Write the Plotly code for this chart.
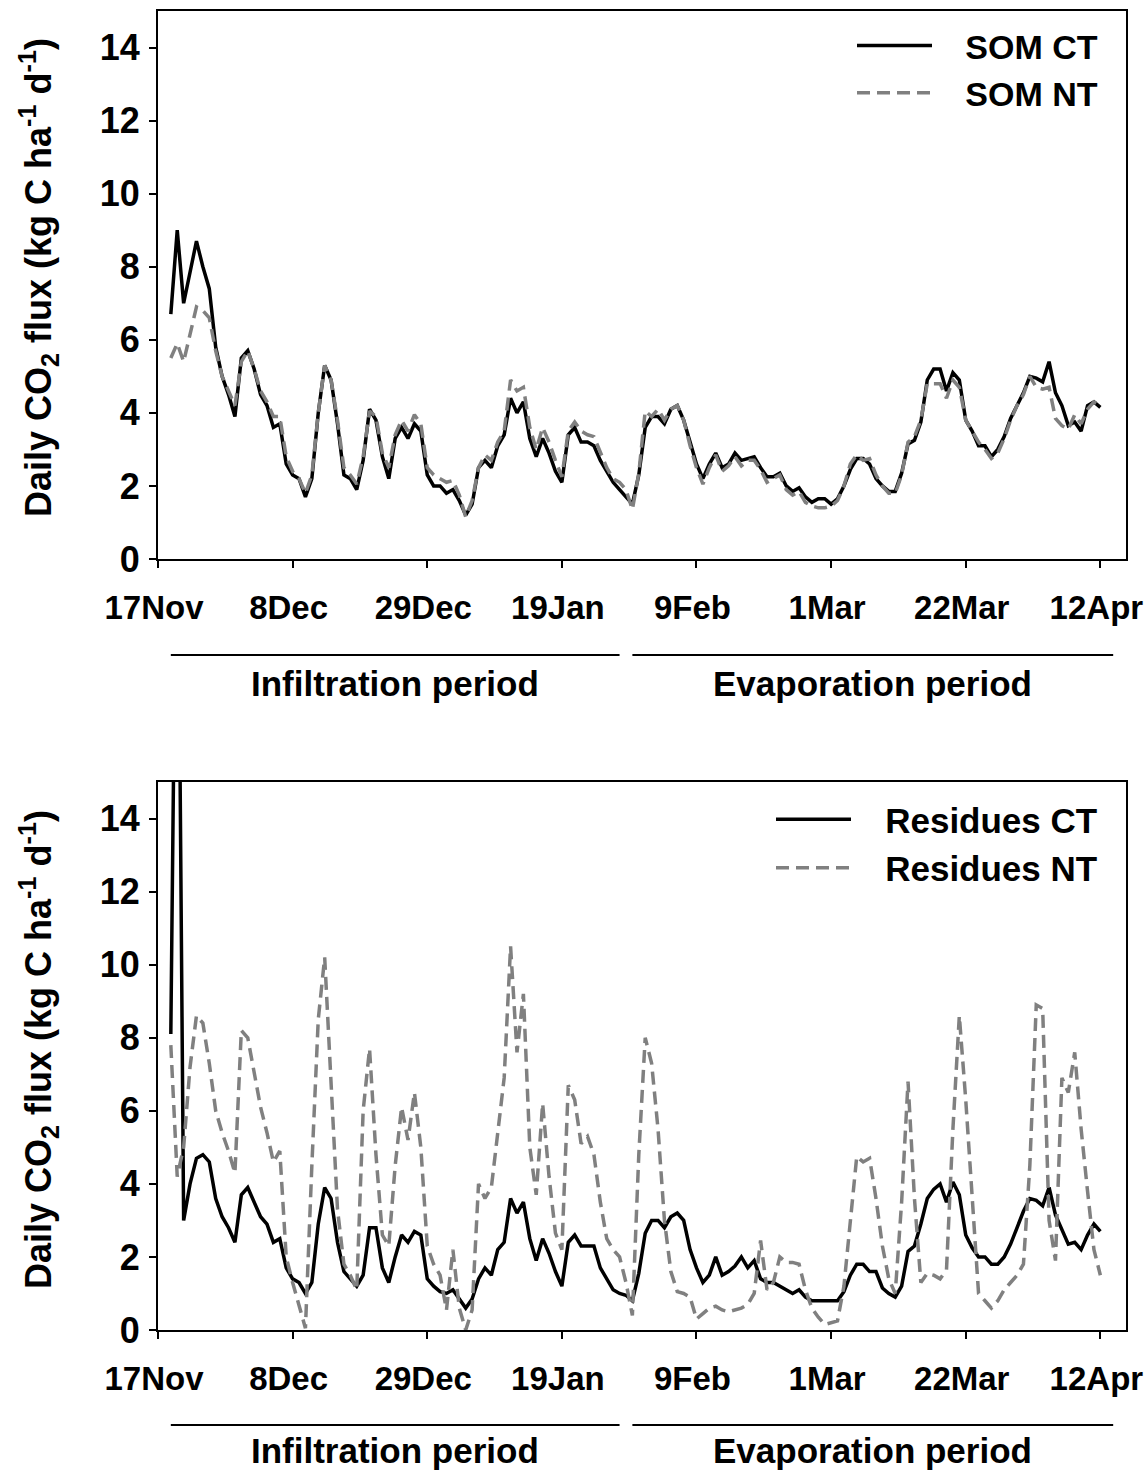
import pandas as pd
import plotly.graph_objects as go

FONT = "Liberation Sans, Arial, sans-serif"

# daily values, first reading on 19 Nov, last on 12 Apr
start_day = "2007-11-19"

som_ct = [
    6.7, 9.0, 7.0, 7.9, 8.7, 8.0, 7.4, 5.8, 5.0, 4.5,
    3.9, 5.5, 5.7, 5.2, 4.5, 4.2, 3.6, 3.7, 2.6, 2.3,
    2.2, 1.7, 2.2, 4.0, 5.3, 4.9, 3.7, 2.3, 2.2, 1.9,
    2.7, 4.1, 3.8, 2.8, 2.2, 3.3, 3.6, 3.3, 3.7, 3.5,
    2.3, 2.0, 2.0, 1.8, 1.9, 1.6, 1.2, 1.5, 2.5, 2.7,
    2.5, 3.1, 3.4, 4.4, 4.0, 4.3, 3.3, 2.8, 3.3, 2.9,
    2.4, 2.1, 3.4, 3.6, 3.2, 3.2, 3.1, 2.7, 2.4, 2.1,
    1.9, 1.7, 1.5, 2.3, 3.6, 3.9, 3.9, 3.7, 4.1, 4.2,
    3.8, 3.2, 2.6, 2.2, 2.6, 2.9, 2.5, 2.6, 2.9, 2.7,
    2.75, 2.8, 2.5, 2.25, 2.25, 2.35, 2.0, 1.85, 1.95, 1.7,
    1.55, 1.65, 1.65, 1.5, 1.65, 2.0, 2.45, 2.75, 2.75, 2.6,
    2.2, 2.0, 1.85, 1.85, 2.35, 3.15, 3.25, 3.75, 4.9, 5.2,
    5.2, 4.6, 5.1, 4.9, 3.8, 3.5, 3.1, 3.1, 2.8, 3.0,
    3.35, 3.85, 4.2, 4.55, 5.0, 4.95, 4.85, 5.4, 4.55, 4.2,
    3.65, 3.75, 3.5, 4.2, 4.3, 4.15,
]

som_nt = [
    5.5, 5.9, 5.4, 6.2, 6.9, 6.8, 6.6, 5.7, 5.0, 4.6,
    4.2, 5.4, 5.7, 5.2, 4.6, 4.3, 3.9, 3.9, 2.8, 2.4,
    2.2, 1.8, 2.3, 4.0, 5.3, 4.9, 3.8, 2.5, 2.3, 2.05,
    2.8, 4.05, 3.9, 2.9, 2.5, 3.4, 3.8, 3.5, 3.95, 3.7,
    2.5, 2.3, 2.2, 2.1, 2.15, 1.75, 1.15, 1.6, 2.5, 2.85,
    2.7, 3.2, 3.5, 4.9, 4.6, 4.7, 3.6, 3.0, 3.6, 3.2,
    2.7, 2.25, 3.5, 3.75, 3.5, 3.4, 3.35, 2.9, 2.5, 2.2,
    2.1, 1.9, 1.35, 2.35, 4.05, 3.9, 4.1, 3.8, 4.1, 4.2,
    3.8, 3.1, 2.5, 2.05, 2.5, 2.85, 2.4, 2.55, 2.8, 2.55,
    2.7, 2.7, 2.45, 2.1, 2.2, 2.3, 1.9, 1.75, 1.85, 1.55,
    1.45, 1.4, 1.4, 1.45, 1.6, 2.0, 2.6, 2.85, 2.7, 2.75,
    2.3, 2.0, 1.8, 1.8, 2.3, 3.2, 3.35, 3.8, 4.8, 4.8,
    4.8, 4.4, 4.9, 4.7, 3.8, 3.5, 3.2, 3.0, 2.75, 2.9,
    3.3, 3.8, 4.2, 4.5, 5.0, 4.7, 4.65, 4.7, 3.85, 3.65,
    3.55, 3.95, 3.7, 4.1, 4.3, 4.2,
]

res_ct = [
    8.1, 25.0, 3.0, 4.0, 4.7, 4.8, 4.6, 3.6, 3.1, 2.8,
    2.4, 3.7, 3.9, 3.5, 3.1, 2.9, 2.4, 2.5, 1.7, 1.4,
    1.3, 1.0, 1.3, 2.9, 3.9, 3.6, 2.4, 1.6, 1.4, 1.2,
    1.5, 2.8, 2.8, 1.7, 1.3, 2.0, 2.6, 2.4, 2.7, 2.6,
    1.4, 1.2, 1.05, 1.0, 1.1, 0.85, 0.6, 0.85, 1.4, 1.7,
    1.5, 2.2, 2.4, 3.6, 3.2, 3.5, 2.5, 1.9, 2.5, 2.1,
    1.6, 1.2, 2.4, 2.6, 2.3, 2.3, 2.3, 1.7, 1.4, 1.1,
    1.0, 0.95, 0.8, 1.55, 2.65, 3.0, 3.0, 2.8, 3.1, 3.2,
    3.0, 2.2, 1.7, 1.3, 1.5, 2.0, 1.5, 1.6, 1.75, 2.0,
    1.7, 1.9, 1.4, 1.3, 1.3, 1.2, 1.1, 1.0, 1.1, 0.9,
    0.8, 0.8, 0.8, 0.8, 0.8, 1.05, 1.5, 1.8, 1.8, 1.6,
    1.6, 1.15, 1.0, 0.9, 1.2, 2.15, 2.3, 2.9, 3.6, 3.85,
    4.0, 3.5, 4.05, 3.7, 2.6, 2.25, 2.0, 2.0, 1.8, 1.8,
    2.0, 2.35, 2.8, 3.25, 3.6, 3.55, 3.4, 3.9, 3.15, 2.75,
    2.35, 2.4, 2.2, 2.6, 2.9, 2.7,
]

res_nt = [
    7.8, 4.2, 5.0, 7.2, 8.6, 8.4, 7.3, 6.0, 5.4, 4.9,
    4.3, 8.2, 8.0, 7.0, 6.1, 5.4, 4.6, 4.9, 2.0, 1.3,
    0.7, 0.05, 4.5, 8.5, 10.2, 6.6, 3.3, 1.8, 1.5, 1.1,
    6.0, 7.7, 4.8, 2.6, 2.3, 4.5, 6.1, 5.2, 6.5, 5.0,
    2.3, 1.8, 1.5, 0.55, 2.2, 0.6, 0.0, 0.55, 4.0, 3.6,
    3.9, 5.4, 6.9, 10.5, 7.6, 9.2, 5.0, 3.7, 6.2, 4.2,
    2.65, 2.2, 6.7, 6.3, 5.1, 5.3, 4.8, 3.5, 2.5, 2.2,
    2.0, 1.3, 0.4, 4.8, 8.0, 7.3, 5.5, 3.0, 1.6, 1.05,
    1.0, 0.9, 0.3, 0.45, 0.6, 0.65, 0.55, 0.5, 0.55, 0.6,
    0.7, 1.0, 2.45, 1.1, 1.3, 2.0, 1.85, 1.85, 1.8, 1.1,
    0.6, 0.35, 0.15, 0.2, 0.25, 1.2, 3.0, 4.75, 4.6, 4.7,
    3.6, 2.3, 1.4, 1.0, 3.5, 6.8, 3.6, 1.3, 1.55, 1.5,
    1.4, 1.65, 5.5, 8.6, 6.3, 3.6, 1.0, 0.8, 0.6, 0.8,
    1.1, 1.3, 1.5, 1.8, 4.5, 8.9, 8.8, 3.0, 1.9, 6.9,
    6.5, 7.6, 5.5, 3.8, 2.2, 1.5,
]

period_names = ["Infiltration period", "Evaporation period"]
period_start = ["2007-11-19", "2008-01-30"]
period_end = ["2008-01-28", "2008-04-14"]

ylabel = "<b>Daily CO<sub>2</sub> flux (kg C ha<sup>-1</sup> d<sup>-1</sup>)</b>"


def dates(values):
    return pd.date_range(start_day, periods=len(values), freq="D")


W, H = 1148, 1472
GAP = "&nbsp;" * 3
fig = go.Figure()

fig.add_trace(go.Scatter(x=dates(som_ct), y=som_ct, mode="lines", name=GAP + "SOM CT",
                         line=dict(color="black", width=3.5), legendgroup="a",
                         xaxis="x", yaxis="y", legend="legend"))
fig.add_trace(go.Scatter(x=dates(som_nt), y=som_nt, mode="lines", name=GAP + "SOM NT",
                         line=dict(color="#808080", width=3.5, dash="13px,7px"), legendgroup="b",
                         xaxis="x", yaxis="y", legend="legend"))
fig.add_trace(go.Scatter(x=dates(res_ct), y=res_ct, mode="lines", name=GAP + "Residues CT",
                         line=dict(color="black", width=3.5), legendgroup="c",
                         xaxis="x2", yaxis="y2", legend="legend2"))
fig.add_trace(go.Scatter(x=dates(res_nt), y=res_nt, mode="lines", name=GAP + "Residues NT",
                         line=dict(color="#808080", width=3.5, dash="13px,7px"), legendgroup="d",
                         xaxis="x2", yaxis="y2", legend="legend2"))

xdom = [158 / W, 1126 / W]
xaxis_style = dict(
    type="date", range=["2007-11-17", "2008-04-16"], tick0="2007-11-17",
    dtick=21 * 86400000, tickformat="%-d%b", ticks="outside", ticklen=7,
    tickwidth=1.5, tickcolor="black", showline=True, linecolor="black",
    linewidth=2, mirror=True, showgrid=False, zeroline=False,
    tickfont=dict(family=FONT, size=33, color="black", weight="bold"),
    ticklabelstandoff=11, ticklabelshift=-4, ticklabeloverflow="allow",
    automargin=False, domain=xdom,
)
yaxis_style = dict(
    range=[0, 15], tick0=0, dtick=2, ticks="outside", ticklen=7,
    tickwidth=1.5, tickcolor="black", showline=True, linecolor="black",
    linewidth=2, mirror=True, showgrid=False, zeroline=False,
    tickfont=dict(family=FONT, size=36, color="black", weight="bold"),
    ticklabelstandoff=2, automargin=False,
)

legend_style = dict(
    xanchor="right", yanchor="top", bgcolor="rgba(0,0,0,0)",
    itemwidth=75, tracegroupgap=0, traceorder="grouped",
)

fig.update_layout(
    width=W, height=H,
    margin=dict(l=0, r=0, t=0, b=0, autoexpand=False),
    paper_bgcolor="white", plot_bgcolor="white",
    font=dict(family=FONT, color="black"),
    xaxis=dict(xaxis_style, anchor="y"),
    yaxis=dict(yaxis_style, anchor="x", domain=[1 - 559 / H, 1 - 11 / H]),
    xaxis2=dict(xaxis_style, anchor="y2"),
    yaxis2=dict(yaxis_style, anchor="x2", domain=[1 - 1330 / H, 1 - 782 / H]),
    legend=dict(legend_style, x=1103 / W, y=1 - 17 / H,
                font=dict(family=FONT, size=34, color="black", weight="bold")),
    legend2=dict(legend_style, x=1103 / W, y=1 - 790 / H,
                 font=dict(family=FONT, size=35, color="black", weight="bold")),
)

# y axis titles and period labels for both panels
for xref, ymid, yline, ytext in [("x", 278, 655, 683), ("x2", 1050, 1425, 1450)]:
    fig.add_annotation(text=ylabel, xref="paper", yref="paper", x=38 / W, y=1 - ymid / H,
                       textangle=-90, showarrow=False, xanchor="center", yanchor="middle",
                       font=dict(family=FONT, size=36, color="black"))
    for name, s, e in zip(period_names, period_start, period_end):
        fig.add_shape(type="line", xref=xref, yref="paper", x0=s, x1=e,
                      y0=1 - yline / H, y1=1 - yline / H, line=dict(color="black", width=2))
        mid = pd.Timestamp(s) + (pd.Timestamp(e) - pd.Timestamp(s)) / 2
        fig.add_annotation(text=f"<b>{name}</b>", xref=xref, yref="paper", x=mid,
                           y=1 - ytext / H, showarrow=False, yanchor="middle",
                           font=dict(family=FONT, size=35, color="black"))

fig.write_html("out.html", config={"displayModeBar": False},
               post_script="document.body.style.margin='0';")
